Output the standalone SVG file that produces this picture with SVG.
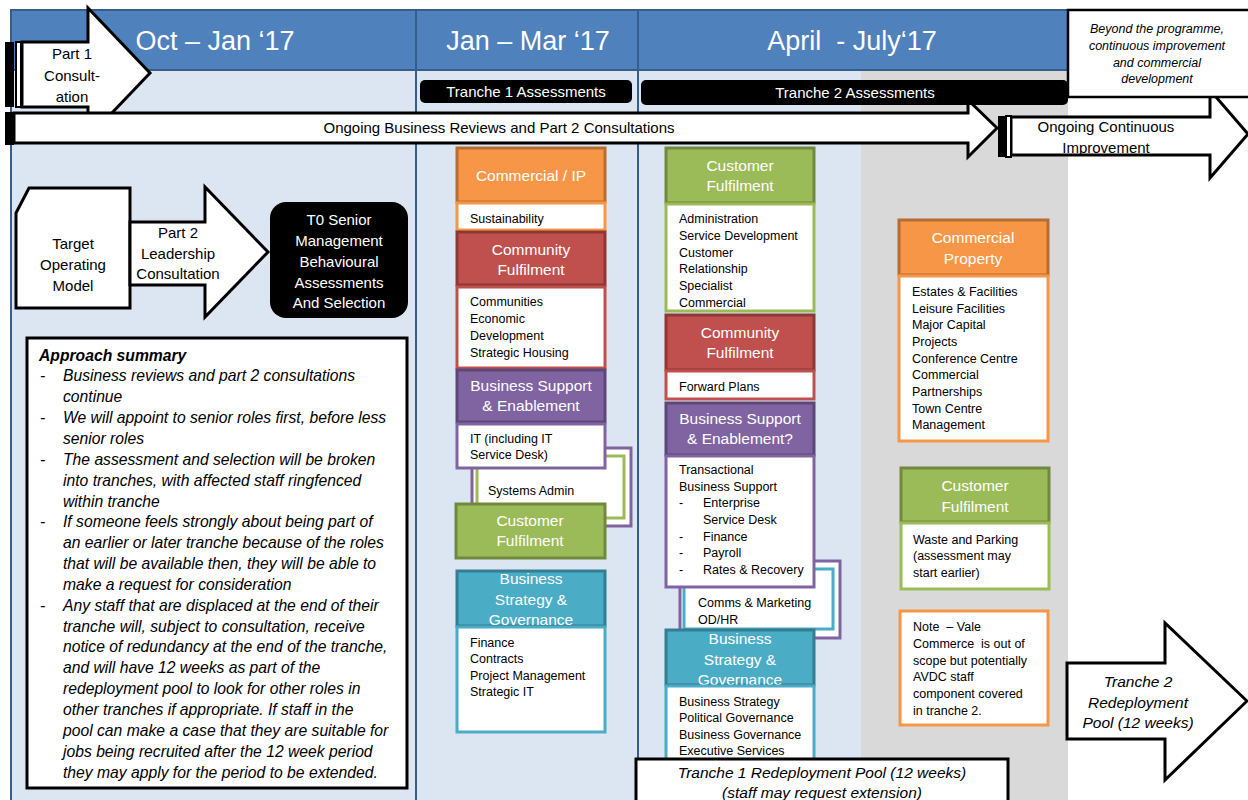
<svg xmlns="http://www.w3.org/2000/svg" width="1248" height="800" viewBox="0 0 1248 800">
  <style>
    text { font-family: "Liberation Sans", Arial, sans-serif; }
    .hdr { fill: #ffffff; font-size: 27px; text-anchor: middle; }
    .bar { fill: #000000; }
    .barT { fill: #ffffff; font-size: 15px; text-anchor: middle; }
    .arrow { fill: #ffffff; stroke: #000000; stroke-width: 3; stroke-linejoin: miter; }
    .lbl { fill: #000000; font-size: 15px; text-anchor: middle; }
    .ital { font-style: italic; }
    .wT { fill: #ffffff; font-size: 15.5px; text-anchor: middle; }
    .body { fill: #000000; font-size: 12.5px; }
    .sum { fill: #000000; font-size: 15.7px; font-style: italic; }
    .hOr { fill: #F79646; stroke: #B66D31; stroke-width: 3; }
    .bOr { fill: #ffffff; stroke: #F79646; stroke-width: 3; }
    .hRd { fill: #C0504D; stroke: #8C3836; stroke-width: 3; }
    .bRd { fill: #ffffff; stroke: #C0504D; stroke-width: 3; }
    .hPu { fill: #8064A2; stroke: #5C4776; stroke-width: 3; }
    .bPu { fill: #ffffff; stroke: #8064A2; stroke-width: 3; }
    .hGr { fill: #9BBB59; stroke: #71893F; stroke-width: 3; }
    .bGr { fill: #ffffff; stroke: #9BBB59; stroke-width: 3; }
    .hTl { fill: #4BACC6; stroke: #357D91; stroke-width: 3; }
    .bTl { fill: #ffffff; stroke: #4BACC6; stroke-width: 3; }
    .sep { stroke: #385D8A; stroke-width: 2; }
  </style>

  <!-- timeline columns -->
  <g id="columns">
    <rect x="11" y="10" width="1057" height="800" fill="#DCE6F2"/>
    <rect x="861" y="70" width="207" height="740" fill="#D9D9D9"/>
    <rect x="11" y="10" width="1057" height="60" fill="#4F81BD" stroke="#385D8A" stroke-width="2"/>
    <line class="sep" x1="11" y1="10" x2="11" y2="800"/>
    <line class="sep" x1="416" y1="10" x2="416" y2="800"/>
    <line class="sep" x1="638" y1="10" x2="638" y2="800"/>
    <text class="hdr" x="215" y="49.5">Oct – Jan ‘17</text>
    <text class="hdr" x="528" y="49.5">Jan – Mar ‘17</text>
    <text class="hdr" x="852" y="49.5">April&#160; - July‘17</text>
  </g>

  <!-- part 1 consultation arrow -->
  <g id="part1">
    <polygon class="arrow" points="22,42 88,42 88,8 150,73 88,138 88,107 22,107"/>
    <rect x="5" y="42" width="9" height="65" fill="#000000"/>
    <rect x="16" y="42" width="5" height="65" fill="#ffffff" stroke="#000000" stroke-width="2"/>
    <text class="lbl" x="72" y="58.5">Part 1</text>
    <text class="lbl" x="72" y="80.5">Consult-</text>
    <text class="lbl" x="72" y="101.5">ation</text>
  </g>

  <!-- tranche assessment bars -->
  <g id="tranche1-bar">
    <rect class="bar" x="420" y="80" width="212" height="23" rx="5"/>
    <text class="barT" x="526" y="97">Tranche 1 Assessments</text>
  </g>

  <!-- ongoing business reviews arrow -->
  <g id="ongoing-reviews">
    <polygon class="arrow" points="14,113 968,113 968,100 997,128 968,157 968,143 14,143"/>
    <rect x="5" y="112" width="9" height="33" fill="#000000"/>
    <text class="lbl" x="499" y="133">Ongoing Business Reviews and Part 2 Consultations</text>
  </g>

  <g id="tranche2-bar">
    <rect class="bar" x="641" y="80" width="427" height="25" rx="5"/>
    <text class="barT" x="855" y="98">Tranche 2 Assessments</text>
  </g>

  <!-- ongoing continuous improvement arrow -->
  <g id="ongoing-ci">
    <polygon class="arrow" points="1011,117 1210,117 1210,90 1248,134 1210,178 1210,155 1011,155"/>
    <rect x="998" y="116" width="8" height="41" fill="#000000"/>
    <rect x="1006" y="116" width="5" height="41" fill="#ffffff" stroke="#000000" stroke-width="2"/>
    <text class="lbl" x="1106" y="132">Ongoing Continuous</text>
    <text class="lbl" x="1106" y="153">Improvement</text>
  </g>

  <!-- beyond the programme note -->
  <g id="beyond">
    <rect x="1068" y="10" width="190" height="87" fill="#ffffff" stroke="#000000" stroke-width="2.5"/>
    <text class="lbl ital" style="font-size:12.5px" x="1157" y="33">Beyond the programme,</text>
    <text class="lbl ital" style="font-size:12.5px" x="1157" y="50">continuous improvement</text>
    <text class="lbl ital" style="font-size:12.5px" x="1157" y="67">and commercial</text>
    <text class="lbl ital" style="font-size:12.5px" x="1157" y="83">development</text>
  </g>

  <!-- senior leadership flow -->
  <g id="target-operating-model">
    <polygon class="arrow" points="16,213 29,188 130,188 130,308 16,308"/>
    <text class="lbl" x="73" y="248.5">Target</text>
    <text class="lbl" x="73" y="269.5">Operating</text>
    <text class="lbl" x="73" y="290.5">Model</text>
  </g>
  <g id="part2">
    <polygon class="arrow" points="130,222 205,222 205,187 268,252 205,317 205,285 130,285"/>
    <text class="lbl" x="178" y="237.5">Part 2</text>
    <text class="lbl" x="178" y="258.5">Leadership</text>
    <text class="lbl" x="178" y="278.5">Consultation</text>
  </g>
  <g id="t0-selection">
    <rect x="270" y="202" width="138" height="116" rx="16" fill="#000000"/>
    <text class="barT" x="339" y="224.5">T0 Senior</text>
    <text class="barT" x="339" y="245.5">Management</text>
    <text class="barT" x="339" y="266.5">Behavioural</text>
    <text class="barT" x="339" y="287.5">Assessments</text>
    <text class="barT" x="339" y="307.5">And Selection</text>
  </g>

  <!-- approach summary -->
  <g id="approach-summary">
    <rect x="27" y="338" width="380" height="450" fill="#ffffff" stroke="#000000" stroke-width="3"/>
    <text class="sum" x="39" y="360.5" font-weight="bold">Approach summary</text>
    <g class="sum">
      <text x="40" y="381.4">-</text><text x="63" y="381.4">Business reviews and part 2 consultations</text>
      <text x="63" y="402.2">continue</text>
      <text x="40" y="423.1">-</text><text x="63" y="423.1">We will appoint to senior roles first, before less</text>
      <text x="63" y="443.9">senior roles</text>
      <text x="40" y="464.8">-</text><text x="63" y="464.8">The assessment and selection will be broken</text>
      <text x="63" y="485.6">into tranches, with affected staff ringfenced</text>
      <text x="63" y="506.5">within tranche</text>
      <text x="40" y="527.3">-</text><text x="63" y="527.3">If someone feels strongly about being part of</text>
      <text x="63" y="548.2">an earlier or later tranche because of the roles</text>
      <text x="63" y="569">that will be available then, they will be able to</text>
      <text x="63" y="589.9">make a request for consideration</text>
      <text x="40" y="610.7">-</text><text x="63" y="610.7">Any staff that are displaced at the end of their</text>
      <text x="63" y="631.6">tranche will, subject to consultation, receive</text>
      <text x="63" y="652.4">notice of redundancy at the end of the tranche,</text>
      <text x="63" y="673.3">and will have 12 weeks as part of the</text>
      <text x="63" y="694.1">redeployment pool to look for other roles in</text>
      <text x="63" y="715">other tranches if appropriate. If staff in the</text>
      <text x="63" y="735.8">pool can make a case that they are suitable for</text>
      <text x="63" y="756.7">jobs being recruited after the 12 week period</text>
      <text x="63" y="777.5">they may apply for the period to be extended.</text>
    </g>
  </g>

  <!-- tranche 1 services -->
  <g id="t1-commercial-ip">
    <rect class="hOr" x="457" y="148" width="148" height="54"/>
    <text class="wT" x="531" y="181">Commercial / IP</text>
    <rect class="bOr" x="457" y="203" width="148" height="27"/>
    <text class="body" x="470" y="223">Sustainability</text>
  </g>
  <g id="t1-community">
    <rect class="hRd" x="457" y="232" width="148" height="53"/>
    <text class="wT" x="531" y="255">Community</text>
    <text class="wT" x="531" y="275">Fulfilment</text>
    <rect class="bRd" x="457" y="287" width="148" height="81"/>
    <text class="body" x="470" y="305.5">Communities</text>
    <text class="body" x="470" y="322.5">Economic</text>
    <text class="body" x="470" y="339.5">Development</text>
    <text class="body" x="470" y="356.5">Strategic Housing</text>
  </g>
  <g id="t1-systems-admin">
    <rect x="472" y="448" width="159" height="78" fill="#ffffff" stroke="#8064A2" stroke-width="3"/>
    <rect x="477" y="456" width="147" height="62" fill="#ffffff" stroke="#9BBB59" stroke-width="3"/>
    <text class="body" x="488" y="494.5">Systems Admin</text>
  </g>
  <g id="t1-business-support">
    <rect class="hPu" x="457" y="370" width="148" height="52"/>
    <text class="wT" x="531" y="391">Business Support</text>
    <text class="wT" x="531" y="411">&amp; Enablement</text>
    <rect class="bPu" x="457" y="424" width="148" height="44"/>
    <text class="body" x="470" y="442.5">IT (including IT</text>
    <text class="body" x="470" y="458.5">Service Desk)</text>
  </g>
  <g id="t1-customer">
    <rect class="hGr" x="456" y="504" width="149" height="54"/>
    <text class="wT" x="530" y="526">Customer</text>
    <text class="wT" x="530" y="546">Fulfilment</text>
  </g>
  <g id="t1-strategy">
    <rect class="hTl" x="457" y="571" width="148" height="55"/>
    <text class="wT" x="531" y="584">Business</text>
    <text class="wT" x="531" y="605">Strategy &amp;</text>
    <text class="wT" x="531" y="625">Governance</text>
    <rect class="bTl" x="457" y="627" width="148" height="105"/>
    <text class="body" x="470" y="646.5">Finance</text>
    <text class="body" x="470" y="662.5">Contracts</text>
    <text class="body" x="470" y="679.5">Project Management</text>
    <text class="body" x="470" y="695.5">Strategic IT</text>
  </g>

  <!-- tranche 2 services -->
  <g id="t2-customer">
    <rect class="hGr" x="666" y="148" width="148" height="55"/>
    <text class="wT" x="740" y="171">Customer</text>
    <text class="wT" x="740" y="191">Fulfilment</text>
    <rect class="bGr" x="666" y="204" width="148" height="107"/>
    <text class="body" x="679" y="222.5">Administration</text>
    <text class="body" x="679" y="239.5">Service Development</text>
    <text class="body" x="679" y="256.5">Customer</text>
    <text class="body" x="679" y="272.5">Relationship</text>
    <text class="body" x="679" y="289.5">Specialist</text>
    <text class="body" x="679" y="306.5">Commercial</text>
  </g>
  <g id="t2-community">
    <rect class="hRd" x="666" y="315" width="148" height="55"/>
    <text class="wT" x="740" y="338">Community</text>
    <text class="wT" x="740" y="358">Fulfilment</text>
    <rect class="bRd" x="666" y="371" width="148" height="28"/>
    <text class="body" x="679" y="390.5">Forward Plans</text>
  </g>
  <g id="t2-comms">
    <rect x="680" y="561" width="160" height="77" fill="#ffffff" stroke="#8064A2" stroke-width="3"/>
    <rect x="684" y="569" width="149" height="60" fill="#ffffff" stroke="#4BACC6" stroke-width="3"/>
    <text class="body" x="698" y="606.5">Comms &amp; Marketing</text>
    <text class="body" x="698" y="623.5">OD/HR</text>
  </g>
  <g id="t2-business-support">
    <rect class="hPu" x="666" y="403" width="148" height="52"/>
    <text class="wT" x="740" y="424">Business Support</text>
    <text class="wT" x="740" y="444">&amp; Enablement?</text>
    <rect class="bPu" x="666" y="456" width="148" height="131"/>
    <text class="body" x="679" y="473.5">Transactional</text>
    <text class="body" x="679" y="490.5">Business Support</text>
    <text class="body" x="679" y="506.5">-</text><text class="body" x="703" y="506.5">Enterprise</text>
    <text class="body" x="703" y="523.5">Service Desk</text>
    <text class="body" x="679" y="540.5">-</text><text class="body" x="703" y="540.5">Finance</text>
    <text class="body" x="679" y="556.5">-</text><text class="body" x="703" y="556.5">Payroll</text>
    <text class="body" x="679" y="573.5">-</text><text class="body" x="703" y="573.5">Rates &amp; Recovery</text>
  </g>
  <g id="t2-strategy">
    <rect class="hTl" x="666" y="630" width="148" height="55"/>
    <text class="wT" x="740" y="644">Business</text>
    <text class="wT" x="740" y="665">Strategy &amp;</text>
    <text class="wT" x="740" y="685">Governance</text>
    <rect class="bTl" x="666" y="686" width="148" height="80"/>
    <text class="body" x="679" y="705.5">Business Strategy</text>
    <text class="body" x="679" y="721.5">Political Governance</text>
    <text class="body" x="679" y="738.5">Business Governance</text>
    <text class="body" x="679" y="754.5">Executive Services</text>
  </g>

  <g id="t1-redeployment">
    <rect x="636" y="759" width="372" height="60" fill="#ffffff" stroke="#000000" stroke-width="3"/>
    <text class="lbl ital" style="font-size:15.5px" x="822" y="778">Tranche 1 Redeployment Pool (12 weeks)</text>
    <text class="lbl ital" style="font-size:15.5px" x="822" y="798">(staff may request extension)</text>
  </g>

  <!-- later services -->
  <g id="commercial-property">
    <rect class="hOr" x="899" y="220" width="149" height="55"/>
    <text class="wT" x="973" y="243">Commercial</text>
    <text class="wT" x="973" y="264">Property</text>
    <rect class="bOr" x="899" y="276" width="149" height="165"/>
    <text class="body" x="912" y="295.5">Estates &amp; Facilities</text>
    <text class="body" x="912" y="312.5">Leisure Facilities</text>
    <text class="body" x="912" y="328.5">Major Capital</text>
    <text class="body" x="912" y="345.5">Projects</text>
    <text class="body" x="912" y="362.5">Conference Centre</text>
    <text class="body" x="912" y="378.5">Commercial</text>
    <text class="body" x="912" y="395.5">Partnerships</text>
    <text class="body" x="912" y="412.5">Town Centre</text>
    <text class="body" x="912" y="428.5">Management</text>
  </g>
  <g id="waste-parking">
    <rect class="hGr" x="901" y="468" width="148" height="54"/>
    <text class="wT" x="975" y="491">Customer</text>
    <text class="wT" x="975" y="512">Fulfilment</text>
    <rect class="bGr" x="901" y="523" width="148" height="66"/>
    <text class="body" x="913" y="543.5">Waste and Parking</text>
    <text class="body" x="913" y="559.5">(assessment may</text>
    <text class="body" x="913" y="576.5">start earlier)</text>
  </g>
  <g id="vale-note">
    <rect class="bOr" x="900" y="611" width="148" height="114"/>
    <text class="body" x="913" y="630.5">Note&#160; – Vale</text>
    <text class="body" x="913" y="647.5">Commerce&#160; is out of</text>
    <text class="body" x="913" y="664.5">scope but potentially</text>
    <text class="body" x="913" y="680.5">AVDC staff</text>
    <text class="body" x="913" y="697.5">component covered</text>
    <text class="body" x="913" y="714.5">in tranche 2.</text>
  </g>

  <g id="t2-redeployment">
    <polygon class="arrow" points="1067,663 1165,663 1165,623 1247,701 1165,780 1165,739 1067,739"/>
    <text class="lbl ital" style="font-size:15.5px" x="1138" y="687">Tranche 2</text>
    <text class="lbl ital" style="font-size:15.5px" x="1138" y="708">Redeployment</text>
    <text class="lbl ital" style="font-size:15.5px" x="1138" y="728">Pool (12 weeks)</text>
  </g>
</svg>
